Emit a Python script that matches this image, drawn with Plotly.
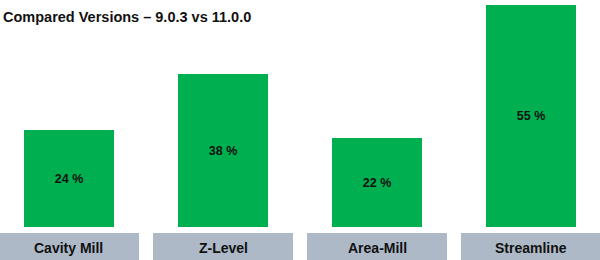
import plotly.graph_objects as go

categories = ["Cavity Mill", "Z-Level", "Area-Mill", "Streamline"]
values = [24, 38, 22, 55]
labels = ["24 %", "38 %", "22 %", "55 %"]
title = "Compared Versions – 9.0.3 vs 11.0.0"

GREEN = "#00b050"
BOX = "#adb9c7"
FONT = "Liberation Sans, Arial, sans-serif"

fig = go.Figure()
fig.add_trace(go.Bar(
    x=list(range(len(categories))), y=values, text=labels,
    width=0.584,
    marker=dict(color=GREEN, line=dict(width=0)),
    textposition="inside", insidetextanchor="middle",
    textfont=dict(family=FONT, size=12.5, color="#111111", weight="bold"),
    hoverinfo="skip", showlegend=False,
))

shapes = []
annotations = []
for i, c in enumerate(categories):
    shapes.append(dict(type="rect", xref="x", yref="paper",
                       x0=i - 0.4545, x1=i + 0.4545, y0=-0.16, y1=-0.0264,
                       fillcolor=BOX, line=dict(width=0), layer="below"))
    annotations.append(dict(x=i, xref="x", y=-0.092, yref="paper",
                            text="<b>%s</b>" % c, showarrow=False,
                            font=dict(family=FONT, size=14, color="#111111"),
                            xanchor="center", yanchor="middle"))

fig.update_layout(
    width=600, height=260,
    margin=dict(l=0, r=0, t=0, b=33),
    paper_bgcolor="white", plot_bgcolor="white",
    xaxis=dict(range=[-0.448, 3.448], visible=False, fixedrange=True),
    yaxis=dict(range=[0, 56.2], visible=False, fixedrange=True),
    shapes=shapes,
    annotations=annotations,
    title=dict(text="<b>%s</b>" % title, x=0.005, xanchor="left",
               y=0.935, yanchor="middle",
               font=dict(family=FONT, size=14.5, color="#111111")),
    bargap=0,
)

fig.write_html("out.html", config={"displayModeBar": False})
